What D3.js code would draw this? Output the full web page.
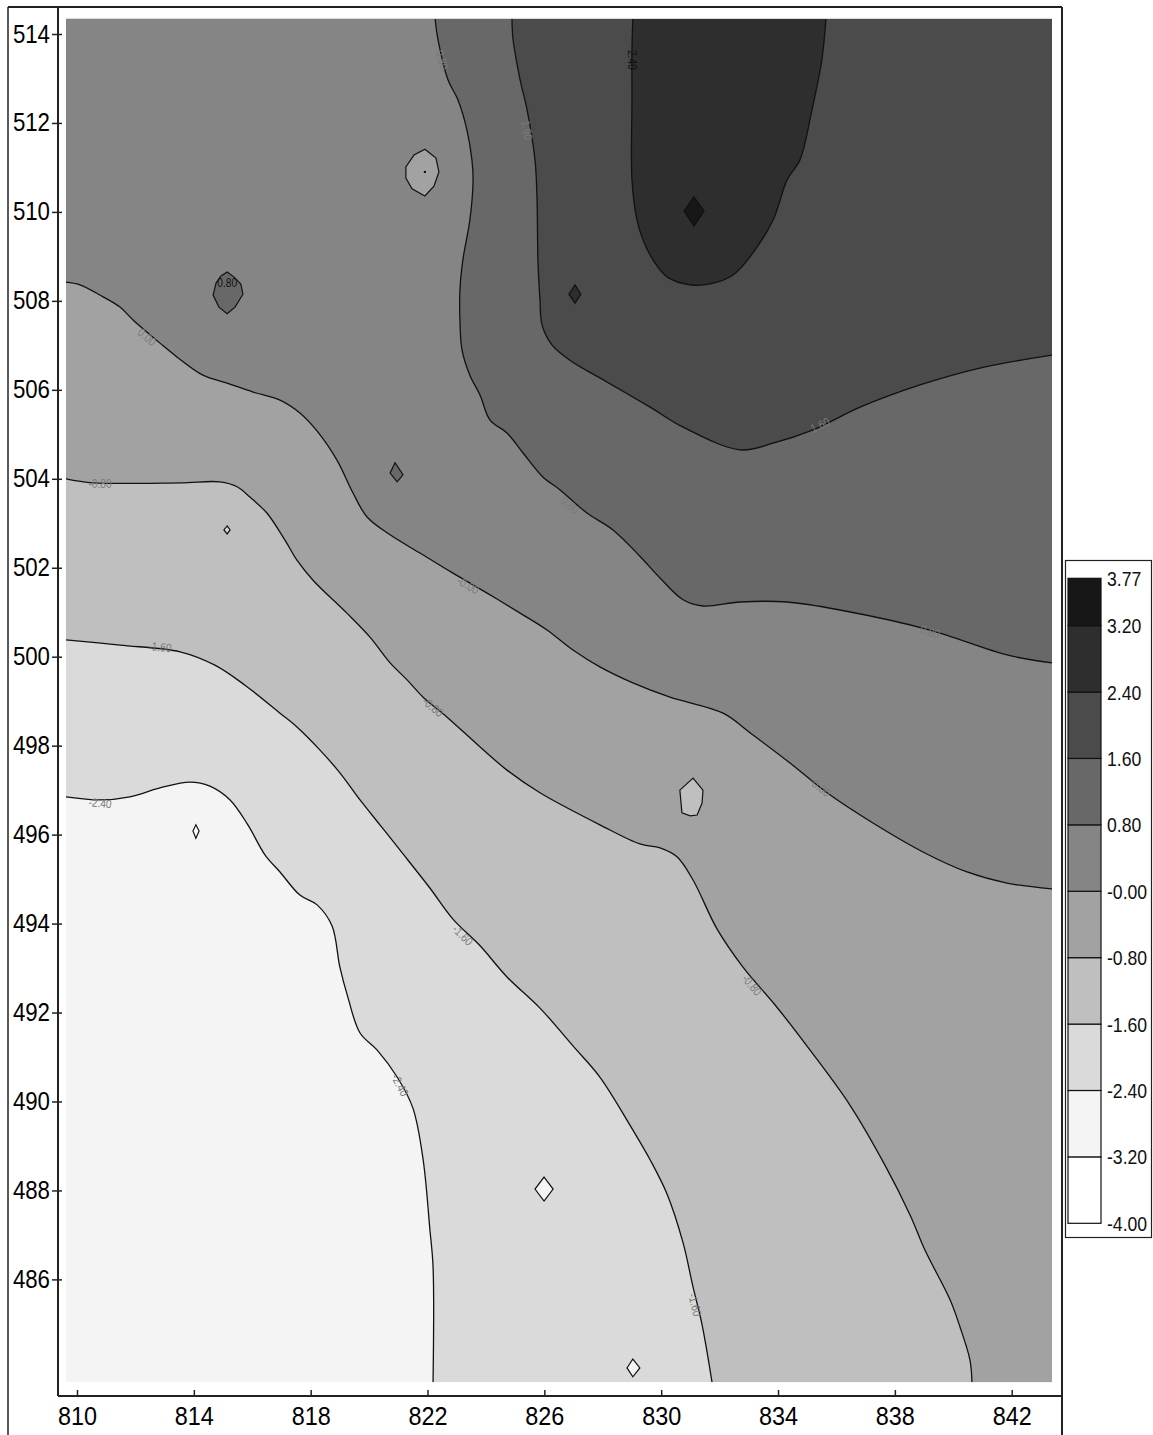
<!DOCTYPE html>
<html><head><meta charset="utf-8">
<script src="https://cdn.jsdelivr.net/npm/d3@7"></script>
<style>
body{margin:0;background:#fff;}
svg{display:block;}
</style>
</head><body>
<script>
// ---------- data ----------
const levels = [-4.00, -3.20, -2.40, -1.60, -0.80, 0.00, 0.80, 1.60, 2.40, 3.20, 3.77];
const levelLabels = ["-4.00","-3.20","-2.40","-1.60","-0.80","-0.00","0.80","1.60","2.40","3.20","3.77"];
const xTicks = [810, 814, 818, 822, 826, 830, 834, 838, 842];
const yTicks = [486, 488, 490, 492, 494, 496, 498, 500, 502, 504, 506, 508, 510, 512, 514];
const gridX = [809.62, 843.38];
const gridY = [483.69, 514.34];

// open isolines (x, y in map units)
const lineM240 = [[809.62,496.85],[810.79,496.78],[811.81,496.85],[812.84,497.05],[813.87,497.18],[814.55,497.09],[815.24,496.78],[815.85,496.22],[816.44,495.54],[816.95,495.16],[817.63,494.64],[818.22,494.42],[818.73,493.95],[819.00,493.02],[819.28,492.33],[819.69,491.54],[820.27,491.16],[820.96,490.55],[821.50,489.85],[821.85,488.69],[822.08,487.13],[822.19,486.28],[822.19,483.69]];
const lineM160 = [[809.62,500.38],[811.47,500.26],[813.53,500.11],[814.72,499.81],[815.75,499.36],[816.95,498.73],[817.53,498.42],[818.32,497.90],[819.00,497.39],[819.69,496.78],[820.37,496.22],[821.06,495.65],[822.08,494.80],[822.87,494.10],[823.80,493.50],[824.72,492.80],[825.85,492.10],[826.98,491.25],[827.90,490.55],[828.93,489.47],[829.62,488.69],[830.20,487.92],[830.75,486.82],[831.09,485.83],[831.40,484.98],[831.74,483.69]];
const lineM080 = [[809.62,504.00],[810.55,503.91],[813.53,503.91],[814.90,503.93],[815.48,503.82],[815.92,503.59],[816.50,503.23],[817.12,502.62],[817.53,502.17],[818.08,501.72],[819.24,500.98],[820.03,500.44],[820.72,499.86],[821.30,499.48],[821.85,499.09],[822.67,498.64],[823.80,497.97],[824.72,497.45],[825.85,496.94],[827.90,496.22],[829.27,495.79],[829.96,495.70],[830.54,495.50],[831.09,494.98],[831.91,493.88],[832.80,493.02],[833.90,492.17],[835.09,491.16],[836.46,489.92],[837.66,488.57],[838.52,487.45],[839.03,486.66],[839.89,485.54],[840.23,484.93],[840.57,484.19],[840.64,483.69]];
const line000 = [[809.62,508.42],[810.10,508.36],[810.89,508.09],[811.47,507.86],[811.92,507.57],[812.84,507.05],[813.42,506.74],[814.31,506.33],[815.14,506.15],[816.03,505.95],[816.95,505.77],[817.63,505.48],[818.25,505.05],[818.90,504.42],[819.45,503.68],[819.93,503.14],[820.72,502.74],[821.74,502.33],[822.87,501.88],[824.04,501.43],[825.17,500.98],[826.09,500.60],[826.98,500.15],[827.90,499.77],[829.03,499.41],[830.30,499.09],[832.12,498.73],[833.04,498.29],[834.41,497.61],[835.68,496.94],[837.25,496.26],[838.96,495.61],[840.47,495.16],[841.84,494.91],[843.38,494.78]];
const line080 = [[822.26,514.34],[822.36,513.87],[822.70,512.97],[823.04,512.52],[823.35,511.84],[823.52,511.17],[823.56,510.72],[823.45,509.82],[823.21,508.92],[823.11,508.24],[823.11,507.57],[823.18,506.90],[823.45,506.33],[823.80,505.88],[824.14,505.32],[824.72,505.03],[825.27,504.58],[825.95,504.04],[826.54,503.75],[827.46,503.23],[828.35,502.85],[829.27,502.26],[829.96,501.77],[830.75,501.28],[831.43,501.14],[832.70,501.23],[834.31,501.23],[836.12,501.05],[839.20,500.60],[841.84,500.04],[843.38,499.86]];
const line160 = [[824.89,514.34],[824.93,513.87],[825.17,512.97],[825.41,512.29],[825.68,511.17],[825.75,510.27],[825.78,508.92],[825.85,508.02],[825.92,507.46],[826.26,507.01],[826.95,506.63],[827.90,506.27],[829.62,505.61],[830.75,505.16],[832.70,504.65],[833.83,504.80],[835.20,505.10],[836.81,505.61],[838.86,506.11],[840.91,506.49],[843.38,506.78]];
const line240 = [[829.03,514.34],[829.00,513.64],[829.00,512.52],[829.00,510.72],[829.17,509.82],[829.38,509.37],[829.72,508.92],[830.20,508.54],[830.99,508.36],[831.67,508.38],[832.46,508.58],[833.14,509.08],[833.83,509.82],[834.31,510.72],[834.75,511.17],[835.16,512.29],[835.50,513.42],[835.64,514.34]];

const openLevels = [-2.40, -1.60, -0.80, 0.00, 0.80, 1.60, 2.40];
const openLines = [lineM240, lineM160, lineM080, line000, line080, line160, line240];

// closed isolines: level, peak (inside higher) or pit
const closedLevels = [0.00, 0.80, 2.40, 3.20, 0.80, -0.80, -1.60, -3.20, -2.40, -2.40];
const closedPeak = [false, true, true, true, true, false, false, false, false, false];
const closedRings = [
  [[821.91,511.41],[822.29,511.21],[822.39,510.90],[822.22,510.58],[821.91,510.36],[821.47,510.52],[821.26,510.76],[821.26,511.01],[821.54,511.28]],
  [[815.14,508.65],[815.37,508.54],[815.61,508.38],[815.68,508.15],[815.41,507.86],[815.14,507.71],[814.86,507.86],[814.66,508.13],[814.76,508.40],[814.93,508.56]],
  [[827.05,508.36],[827.25,508.15],[827.05,507.95],[826.84,508.15]],
  [[831.12,510.34],[831.47,510.02],[831.12,509.68],[830.78,510.02]],
  [[820.89,504.36],[821.16,504.09],[820.96,503.93],[820.72,504.13]],
  [[831.09,497.27],[831.43,497.00],[831.40,496.71],[831.23,496.44],[830.99,496.42],[830.71,496.49],[830.64,497.00]],
  [[815.14,502.94],[815.24,502.85],[815.14,502.76],[815.03,502.85]],
  [[814.07,496.22],[814.18,496.08],[814.07,495.92],[813.97,496.08]],
  [[825.99,488.30],[826.30,488.03],[825.99,487.76],[825.68,488.03]],
  [[829.03,484.21],[829.27,484.01],[829.03,483.81],[828.83,484.01]]
];
const dataPoint = [821.91, 510.90];

// isoline labels: text, x, y
const labelText = ["0.80","1.60","2.40","0.00","-0.80","-1.60","-2.40","0.80","-0.00","-0.80","1.60","0.80","-0.00","-1.60","-0.80","-2.40","-1.60"];
const labelX = [822.50,825.41,829.00,812.40,810.79,812.84,810.79,826.88,823.39,822.19,835.44,839.20,835.44,823.21,833.11,821.06,831.16];
const labelY = [513.42,511.84,513.42,507.19,503.88,500.22,496.71,503.41,501.61,498.87,505.21,500.56,497.07,493.74,492.62,490.37,485.43];
const ringLabel = ["0.80", 815.14, 508.42];

// ---------- drawing ----------
const W = 1153, H = 1435;
const bandColors = ["#ffffff","#f4f4f4","#dadada","#bfbfbf","#a2a2a2","#858585","#686868","#4b4b4b","#2e2e2e","#171717"];
const FONT = "'Liberation Sans',Arial,sans-serif";

// horizontally condense text by a transform (keeps bounding boxes honest)
function condense(sel, f) {
  sel.each(function () {
    const t = d3.select(this);
    const tx = +t.attr("x") || 0, ty = +t.attr("y") || 0;
    const prev = t.attr("transform") || "";
    t.attr("x", 0).attr("y", 0)
     .attr("transform", `${prev} translate(${tx},${ty}) scale(${f},1)`);
  });
}

const x = d3.scaleLinear().domain([810, 842]).range([77, 1011.7]);
const y = d3.scaleLinear().domain([486, 514]).range([1279.4, 34]);

const svg = d3.select("body").append("svg").attr("width", W).attr("height", H);

svg.append("defs").append("clipPath").attr("id","plotclip")
  .append("rect")
  .attr("x", x(gridX[0])).attr("y", y(gridY[1]))
  .attr("width", x(gridX[1]) - x(gridX[0])).attr("height", y(gridY[0]) - y(gridY[1]));

const plot = svg.append("g").attr("clip-path","url(#plotclip)");

plot.append("rect")
  .attr("x", x(gridX[0])).attr("y", y(gridY[1]))
  .attr("width", x(gridX[1]) - x(gridX[0])).attr("height", y(gridY[0]) - y(gridY[1]))
  .attr("fill", bandColors[1]);

const lineGen = d3.line().x(d => x(d[0])).y(d => y(d[1])).curve(d3.curveCatmullRom.alpha(0.5));
const ringGen = d3.line().x(d => x(d[0])).y(d => y(d[1])).curve(d3.curveLinearClosed);

// perimeter parameter, counter-clockwise on screen: TL(0) -> BL(1) -> BR(2) -> TR(3) -> TL(4)
const [x0, x1] = gridX, [y0, y1] = gridY;
const eps = 0.02;
function perim(p) {
  if (Math.abs(p[0] - x0) < eps) return (y1 - p[1]) / (y1 - y0);
  if (Math.abs(p[1] - y0) < eps) return 1 + (p[0] - x0) / (x1 - x0);
  if (Math.abs(p[0] - x1) < eps) return 2 + (p[1] - y0) / (y1 - y0);
  return 3 + (x1 - p[0]) / (x1 - x0);
}
const corners = [[x0, y1], [x0, y0], [x1, y0], [x1, y1]];
function bandPath(pts) {
  const tS = perim(pts[0]);
  const tE = perim(pts[pts.length - 1]);
  let tS2 = tS; if (tS2 <= tE) tS2 += 4;
  let d = lineGen(pts);
  for (let k = Math.ceil(tE + 1e-9); k < tS2; k++) {
    const c = corners[k % 4];
    d += "L" + x(c[0]) + "," + y(c[1]);
  }
  return d + "Z";
}

openLines.forEach((pts, i) => {
  const li = levels.indexOf(openLevels[i]);
  plot.append("path").attr("d", bandPath(pts)).attr("fill", bandColors[li]).attr("stroke", "none");
});

openLines.forEach(pts => {
  plot.append("path").attr("d", lineGen(pts))
    .attr("fill", "none").attr("stroke", "#111").attr("stroke-width", 1.3);
});

closedRings.forEach((ring, i) => {
  const li = levels.indexOf(closedLevels[i]);
  const fill = closedPeak[i] ? bandColors[li] : bandColors[li - 1];
  plot.append("path").attr("d", ringGen(ring))
    .attr("fill", fill).attr("stroke", "#111").attr("stroke-width", 1.2);
});
plot.append("circle").attr("cx", x(dataPoint[0])).attr("cy", y(dataPoint[1])).attr("r", 1.2).attr("fill", "#111");

// faint light edge along top of the grid
svg.append("line").attr("x1", x(gridX[0])).attr("x2", x(gridX[1]))
  .attr("y1", y(gridY[1]) - 0.5).attr("y2", y(gridY[1]) - 0.5)
  .attr("stroke", "#d8d8d8").attr("stroke-width", 1);

// label angles from nearest isoline segment
function angleAt(px, py) {
  let best = Infinity, ang = 0;
  openLines.forEach(pts => {
    for (let k = 0; k < pts.length - 1; k++) {
      const ax = x(pts[k][0]), ay = y(pts[k][1]), bx = x(pts[k+1][0]), by = y(pts[k+1][1]);
      const dx = bx - ax, dy = by - ay;
      const L2 = dx*dx + dy*dy || 1;
      let t = ((px - ax)*dx + (py - ay)*dy) / L2; t = Math.max(0, Math.min(1, t));
      const qx = ax + t*dx, qy = ay + t*dy;
      const dd = (px-qx)*(px-qx) + (py-qy)*(py-qy);
      if (dd < best) { best = dd; ang = Math.atan2(dy, dx) * 180 / Math.PI; }
    }
  });
  if (ang > 90) ang -= 180;
  if (ang <= -90) ang += 180;
  return ang;
}

const labs = plot.append("g");
labelText.forEach((t, i) => {
  const px = x(labelX[i]), py = y(labelY[i]);
  const a = angleAt(px, py);
  const dark = parseFloat(t) >= 2.4;
  labs.append("text")
    .attr("transform", `translate(${px},${py}) rotate(${a}) scale(0.85,1)`)
    .attr("text-anchor", "middle").attr("dominant-baseline", "central")
    .attr("font-family", FONT).attr("font-size", 12)
    .attr("fill", dark ? "#111" : "#7a7a7a")
    .text(t);
});
labs.append("text")
  .attr("transform", `translate(${x(ringLabel[1])},${y(ringLabel[2])}) scale(0.85,1)`)
  .attr("text-anchor", "middle").attr("dominant-baseline", "central")
  .attr("font-family", FONT).attr("font-size", 12).attr("fill", "#111")
  .text(ringLabel[0]);

// frame
const frame = svg.append("g").attr("fill", "none").attr("stroke", "#222");
frame.append("line").attr("x1", 8).attr("y1", 7).attr("x2", 1062).attr("y2", 7).attr("stroke-width", 2);
frame.append("line").attr("x1", 8).attr("y1", 7).attr("x2", 8).attr("y2", H + 5).attr("stroke-width", 1.5);
frame.append("line").attr("x1", 1062).attr("y1", 7).attr("x2", 1062).attr("y2", H + 5).attr("stroke-width", 2);
frame.append("line").attr("x1", 58).attr("y1", 7).attr("x2", 58).attr("y2", 1396).attr("stroke-width", 2);
frame.append("line").attr("x1", 58).attr("y1", 1396).attr("x2", 1062).attr("y2", 1396).attr("stroke-width", 2.2);

// axes
const yAxis = d3.axisLeft(y).tickValues(yTicks).tickFormat(d3.format("d")).tickSizeInner(10).tickSizeOuter(0).tickPadding(2);
const gy = svg.append("g").attr("transform", "translate(62,0)").call(yAxis);
gy.select(".domain").remove();
gy.selectAll("line").attr("stroke", "#222").attr("stroke-width", 1.5);
gy.selectAll("text").attr("font-family", FONT).attr("font-size", 25).attr("fill", "#000");
condense(gy.selectAll("text"), 0.89);

const xAxis = d3.axisBottom(x).tickValues(xTicks).tickFormat(d3.format("d")).tickSizeInner(-6).tickSizeOuter(0).tickPadding(11);
const gx = svg.append("g").attr("transform", "translate(0,1396)").call(xAxis);
gx.select(".domain").remove();
gx.selectAll("line").attr("stroke", "#222").attr("stroke-width", 1.5);
gx.selectAll("text").attr("font-family", FONT).attr("font-size", 26).attr("fill", "#000");
condense(gx.selectAll("text"), 0.9);

// legend
const yLeg = d3.scaleLinear().domain([levels[0], levels[levels.length - 1]]).range([1223.3, 578.3]);
const leg = svg.append("g");
leg.append("rect").attr("x", 1065.5).attr("y", 560.5).attr("width", 86).attr("height", 677)
  .attr("fill", "#fff").attr("stroke", "#222").attr("stroke-width", 1.2);
for (let i = 0; i < levels.length - 1; i++) {
  leg.append("rect")
    .attr("x", 1068).attr("y", yLeg(levels[i + 1]))
    .attr("width", 33).attr("height", yLeg(levels[i]) - yLeg(levels[i + 1]))
    .attr("fill", bandColors[i]).attr("stroke", "#111").attr("stroke-width", 1.2);
}
const legText = leg.append("g");
levels.forEach((v, i) => {
  legText.append("text")
    .attr("x", 1107).attr("y", yLeg(v))
    .attr("dominant-baseline", "central")
    .attr("font-family", FONT).attr("font-size", 21).attr("fill", "#111")
    .text(levelLabels[i]);
});
condense(legText.selectAll("text"), 0.84);
</script>
</body></html>
